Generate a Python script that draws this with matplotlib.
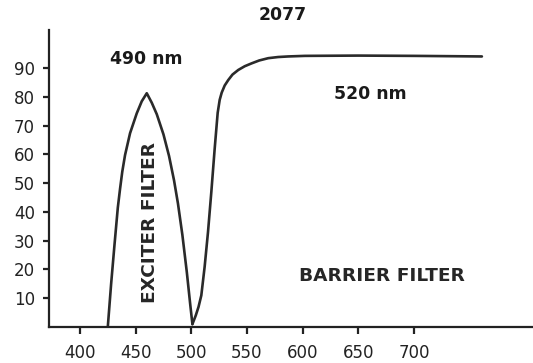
import matplotlib
matplotlib.use("Agg")
import matplotlib.pyplot as plt

# transmission (%) vs wavelength (nm), read point by point
exciter_nm = [425, 426, 428, 431, 434, 436, 438, 440.5, 445, 451, 455.5, 460,
              464.5, 469, 475, 480, 484.5, 488, 492, 496, 499, 501]
exciter_pct = [0, 5, 15, 28.5, 41.5, 48, 54, 59.8, 67.4, 74.3, 78.5, 81.3,
               78, 74, 67, 59.5, 51, 43, 32, 19, 8, 1]

barrier_nm = [501, 504, 506.5, 509, 512, 515, 518, 521, 523.7, 525.5,
              527.3, 530, 533.2, 537, 542.2, 548, 554.2, 561, 569.1, 578,
              587, 602, 650, 700, 761]
barrier_pct = [1, 4, 7, 11, 21, 33, 47, 62, 74.5, 79,
               81.5, 84, 85.9, 87.8, 89.4, 90.7, 91.7, 92.7, 93.5, 93.9,
               94.1, 94.3, 94.4, 94.3, 94.1]

x_ticks = [400, 450, 500, 550, 600, 650, 700]
y_ticks = [10, 20, 30, 40, 50, 60, 70, 80, 90]

W, H = 533, 363
fig = plt.figure(figsize=(W / 100, H / 100), dpi=100)
ax = fig.add_axes([49 / W, 1 - 327 / H, (532 - 49) / W, (327 - 30) / H])

line_kw = dict(color="#2a2a2a", linewidth=1.9, solid_capstyle="round",
               solid_joinstyle="round")
ax.plot(exciter_nm, exciter_pct, **line_kw)
ax.plot(barrier_nm, barrier_pct, **line_kw)

ax.set_xlim(372.2, 806)
ax.set_ylim(0, 103.3)

for side in ("top", "right"):
    ax.spines[side].set_visible(False)
for side in ("left", "bottom"):
    ax.spines[side].set_linewidth(1.6)
    ax.spines[side].set_color("#222222")

ax.set_xticks(x_ticks)
ax.set_yticks(y_ticks)
ax.tick_params(axis="both", direction="out", width=1.6, color="#222222",
               labelsize=12, labelcolor="#222222")
ax.tick_params(axis="x", length=5, pad=7)
ax.tick_params(axis="y", length=4, pad=6)

bold = dict(fontsize=12.4, fontweight="bold", color="#1a1a1a",
            ha="center", va="center")
fig.text(282.5 / W, 1 - 15 / H, "2077", **bold)
ax.text(459.3, 93.3, "490 nm", **bold)
ax.text(660.9, 81.0, "520 nm", **bold)

label = dict(fontsize=13.3, fontweight="bold", color="#262626",
             ha="center", va="center")
ax.text(670.8, 17.8, "BARRIER FILTER", **label)
ax.text(463.3, 36.4, "EXCITER FILTER", rotation=90, **label)

fig.savefig("out.png", dpi=100)
